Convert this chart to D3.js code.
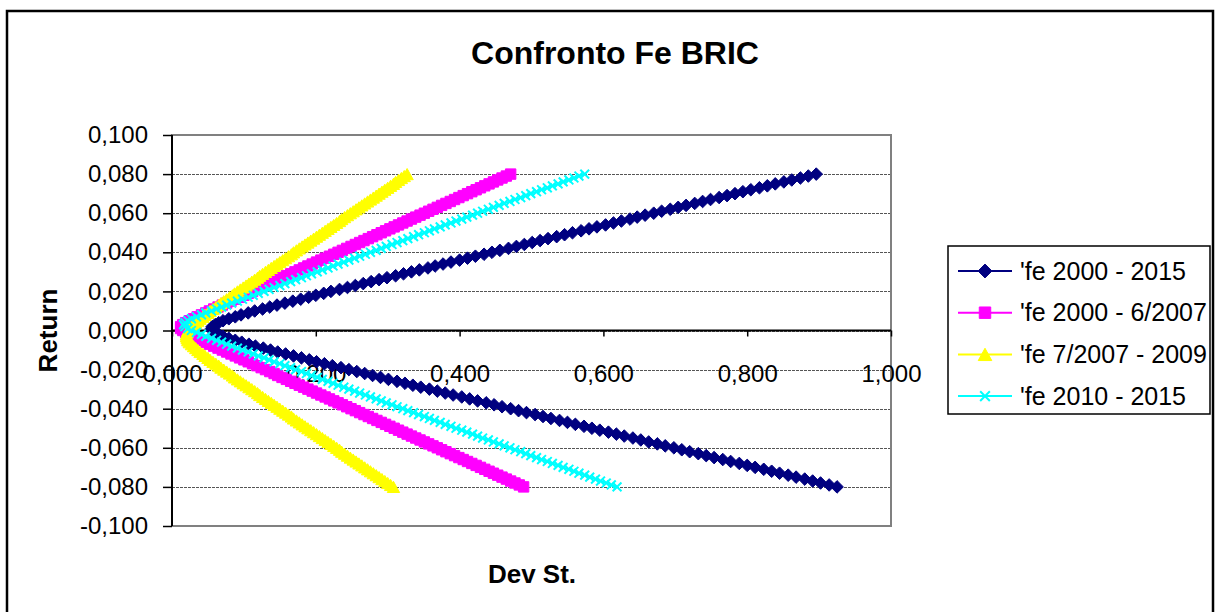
<!DOCTYPE html>
<html>
<head>
<meta charset="utf-8">
<script src="https://cdn.jsdelivr.net/npm/d3@7"></script>
<style>
  body { margin: 0; background: #fff; }
  svg { display: block; }
</style>
</head>
<body>
<svg id="chart" width="1219" height="612"></svg>
<script>
// Target returns of the frontier portfolios (same grid for every period)
const returns = [
  -0.080,-0.079,-0.078,-0.077,-0.076,-0.075,-0.074,-0.073,-0.072,-0.071,
  -0.070,-0.069,-0.068,-0.067,-0.066,-0.065,-0.064,-0.063,-0.062,-0.061,
  -0.060,-0.059,-0.058,-0.057,-0.056,-0.055,-0.054,-0.053,-0.052,-0.051,
  -0.050,-0.049,-0.048,-0.047,-0.046,-0.045,-0.044,-0.043,-0.042,-0.041,
  -0.040,-0.039,-0.038,-0.037,-0.036,-0.035,-0.034,-0.033,-0.032,-0.031,
  -0.030,-0.029,-0.028,-0.027,-0.026,-0.025,-0.024,-0.023,-0.022,-0.021,
  -0.020,-0.019,-0.018,-0.017,-0.016,-0.015,-0.014,-0.013,-0.012,-0.011,
  -0.010,-0.009,-0.008,-0.007,-0.006,-0.005,-0.004,-0.003,-0.002,-0.001,
   0.000, 0.001, 0.002, 0.003, 0.004, 0.005, 0.006, 0.007, 0.008, 0.009,
   0.010, 0.011, 0.012, 0.013, 0.014, 0.015, 0.016, 0.017, 0.018, 0.019,
   0.020, 0.021, 0.022, 0.023, 0.024, 0.025, 0.026, 0.027, 0.028, 0.029,
   0.030, 0.031, 0.032, 0.033, 0.034, 0.035, 0.036, 0.037, 0.038, 0.039,
   0.040, 0.041, 0.042, 0.043, 0.044, 0.045, 0.046, 0.047, 0.048, 0.049,
   0.050, 0.051, 0.052, 0.053, 0.054, 0.055, 0.056, 0.057, 0.058, 0.059,
   0.060, 0.061, 0.062, 0.063, 0.064, 0.065, 0.066, 0.067, 0.068, 0.069,
   0.070, 0.071, 0.072, 0.073, 0.074, 0.075, 0.076, 0.077, 0.078, 0.079,
   0.080
];

// Standard deviation of each frontier portfolio, one list per period
const devFe2000_2015 = [
  0.925,0.914,0.902,0.891,0.880,0.868,0.857,0.845,0.834,0.823,
  0.811,0.800,0.789,0.777,0.766,0.754,0.743,0.732,0.720,0.709,
  0.698,0.686,0.675,0.663,0.652,0.641,0.629,0.618,0.607,0.595,
  0.584,0.573,0.561,0.550,0.539,0.527,0.516,0.505,0.493,0.482,
  0.471,0.459,0.448,0.437,0.425,0.414,0.403,0.391,0.380,0.369,
  0.358,0.346,0.335,0.324,0.313,0.301,0.290,0.279,0.268,0.257,
  0.246,0.235,0.223,0.212,0.201,0.191,0.180,0.169,0.158,0.147,
  0.137,0.127,0.116,0.107,0.097,0.088,0.079,0.071,0.065,0.060,
  0.056,0.055,
  0.056,0.060,0.065,0.071,0.079,0.088,0.096,0.106,0.115,0.126,
  0.136,0.146,0.157,0.168,0.179,0.190,0.200,0.211,0.221,0.233,
  0.244,0.255,0.266,0.277,0.288,0.299,0.311,0.322,0.333,0.344,
  0.356,0.366,0.377,0.388,0.400,0.411,0.422,0.434,0.445,0.456,
  0.468,0.479,0.490,0.501,0.512,0.523,0.535,0.546,0.557,0.569,
  0.580,0.591,0.603,0.614,0.625,0.637,0.647,0.658,0.670,0.681,
  0.693,0.704,0.715,0.727,0.738,0.749,0.761,0.772,0.783,0.794,
  0.805,0.817,0.828,0.839,0.851,0.862,0.874,0.885,0.896
];
const devFe2000_2007 = [
  0.489,0.483,0.477,0.471,0.465,0.459,0.453,0.447,0.441,0.435,
  0.429,0.423,0.417,0.411,0.405,0.399,0.393,0.387,0.381,0.375,
  0.369,0.363,0.357,0.351,0.345,0.339,0.333,0.327,0.321,0.315,
  0.309,0.303,0.297,0.291,0.285,0.279,0.273,0.267,0.261,0.255,
  0.249,0.243,0.237,0.231,0.225,0.219,0.213,0.207,0.201,0.195,
  0.189,0.183,0.177,0.171,0.165,0.159,0.153,0.147,0.142,0.136,
  0.130,0.124,0.118,0.112,0.106,0.100,0.094,0.088,0.082,0.076,
  0.070,0.064,0.058,0.052,0.047,0.041,0.035,0.030,0.024,0.019,
  0.015,0.012,
  0.012,0.015,0.019,0.024,0.030,0.035,0.041,0.047,0.052,0.058,
  0.064,0.070,0.076,0.082,0.088,0.094,0.100,0.106,0.112,0.118,
  0.124,0.130,0.136,0.142,0.147,0.153,0.159,0.165,0.171,0.177,
  0.183,0.189,0.195,0.201,0.207,0.213,0.219,0.225,0.231,0.237,
  0.243,0.249,0.255,0.261,0.267,0.273,0.279,0.285,0.291,0.297,
  0.303,0.309,0.315,0.321,0.327,0.333,0.339,0.345,0.351,0.357,
  0.363,0.369,0.375,0.381,0.387,0.393,0.399,0.405,0.411,0.417,
  0.423,0.429,0.435,0.441,0.447,0.453,0.459,0.465,0.471
];
const devFe2007_2009 = [
  0.308,0.304,0.300,0.296,0.292,0.288,0.284,0.280,0.276,0.272,
  0.268,0.264,0.260,0.256,0.252,0.248,0.244,0.240,0.236,0.233,
  0.229,0.225,0.221,0.217,0.213,0.209,0.205,0.201,0.197,0.193,
  0.189,0.185,0.181,0.177,0.173,0.169,0.166,0.162,0.158,0.154,
  0.150,0.146,0.142,0.138,0.134,0.130,0.126,0.122,0.119,0.115,
  0.111,0.107,0.103,0.099,0.095,0.091,0.087,0.084,0.080,0.076,
  0.072,0.068,0.065,0.061,0.057,0.053,0.050,0.046,0.043,0.039,
  0.036,0.033,0.030,0.027,0.024,0.022,0.021,0.020,
  0.020,0.021,0.022,0.024,0.027,0.030,0.033,0.036,0.039,0.043,
  0.046,0.050,0.053,0.057,0.061,0.065,0.068,0.072,0.076,0.080,
  0.084,0.087,0.091,0.095,0.099,0.103,0.107,0.111,0.115,0.119,
  0.122,0.126,0.130,0.134,0.138,0.142,0.146,0.150,0.154,0.158,
  0.162,0.166,0.169,0.173,0.177,0.181,0.185,0.189,0.193,0.197,
  0.201,0.205,0.209,0.213,0.217,0.221,0.225,0.229,0.233,0.236,
  0.240,0.244,0.248,0.252,0.256,0.260,0.264,0.268,0.272,0.276,
  0.280,0.284,0.288,0.292,0.296,0.300,0.304,0.308,0.311,0.315,
  0.319,0.323,0.327
];
const devFe2010_2015 = [
  0.619,0.611,0.604,0.596,0.589,0.581,0.574,0.566,0.559,0.552,
  0.544,0.537,0.529,0.522,0.514,0.507,0.499,0.492,0.485,0.477,
  0.470,0.462,0.455,0.447,0.440,0.432,0.425,0.418,0.410,0.403,
  0.395,0.388,0.380,0.373,0.365,0.358,0.351,0.343,0.336,0.328,
  0.321,0.313,0.306,0.298,0.291,0.284,0.276,0.269,0.261,0.254,
  0.246,0.239,0.231,0.224,0.217,0.209,0.202,0.194,0.187,0.180,
  0.172,0.165,0.157,0.150,0.142,0.135,0.128,0.120,0.113,0.106,
  0.098,0.091,0.083,0.076,0.069,0.062,0.055,0.047,0.041,0.034,
  0.027,0.022,0.018,0.016,
  0.018,0.022,0.027,0.034,0.041,0.047,0.055,0.062,0.069,0.076,
  0.083,0.091,0.098,0.106,0.113,0.120,0.128,0.135,0.142,0.150,
  0.157,0.165,0.172,0.180,0.187,0.194,0.202,0.209,0.217,0.224,
  0.231,0.239,0.246,0.254,0.261,0.269,0.276,0.284,0.291,0.298,
  0.306,0.313,0.321,0.328,0.336,0.343,0.351,0.358,0.365,0.373,
  0.380,0.388,0.395,0.403,0.410,0.418,0.425,0.432,0.440,0.447,
  0.455,0.462,0.470,0.477,0.485,0.492,0.499,0.507,0.514,0.522,
  0.529,0.537,0.544,0.552,0.559,0.566,0.574
];

const seriesNames  = ["'fe 2000 - 2015", "'fe 2000 - 6/2007", "'fe 7/2007 - 2009", "'fe 2010 - 2015"];
const seriesColors = ["#000080", "#FF00FF", "#FFFF00", "#00FFFF"];
const seriesMarkers = ["diamond", "square", "triangle", "cross"];
const seriesDevs = [devFe2000_2015, devFe2000_2007, devFe2007_2009, devFe2010_2015];

const xTicks = [0, 0.2, 0.4, 0.6, 0.8, 1.0];
const yTicks = [-0.1, -0.08, -0.06, -0.04, -0.02, 0, 0.02, 0.04, 0.06, 0.08, 0.1];

const FONT = "'Liberation Sans', Arial, Helvetica, sans-serif";
const svg = d3.select("#chart");

const plot = { left: 172, right: 891, top: 135, bottom: 526 };
const x = d3.scaleLinear().domain([0, 1]).range([plot.left, plot.right]);
const y = d3.scaleLinear().domain([-0.1, 0.1]).range([plot.bottom, plot.top]);

const itLocale = d3.formatLocale({ decimal: ",", thousands: ".", grouping: [3], currency: ["", " €"], minus: "-" });
const fmt = itLocale.format(".3f");

// Chart frame
svg.append("rect")
  .attr("x", 7).attr("y", 11).attr("width", 1206).attr("height", 640)
  .attr("fill", "#fff").attr("stroke", "#000").attr("stroke-width", 2.5);

// Title
svg.append("text")
  .attr("x", 615).attr("y", 64)
  .attr("text-anchor", "middle")
  .attr("font-family", FONT).attr("font-size", 32).attr("font-weight", "bold")
  .text("Confronto Fe BRIC");

// Plot area with horizontal gridlines
svg.append("g").selectAll("line")
  .data(yTicks.filter(t => Math.abs(t) < 0.099))
  .join("line")
  .attr("x1", plot.left).attr("x2", plot.right)
  .attr("y1", d => Math.round(y(d)) + 0.5).attr("y2", d => Math.round(y(d)) + 0.5)
  .attr("stroke", "#555").attr("stroke-width", 1).attr("stroke-dasharray", "3,1");

svg.append("rect")
  .attr("x", plot.left).attr("y", plot.top)
  .attr("width", plot.right - plot.left).attr("height", plot.bottom - plot.top)
  .attr("fill", "none").attr("stroke", "#808080").attr("stroke-width", 2);

// Y axis
const gy = svg.append("g")
  .attr("transform", `translate(${plot.left},0)`)
  .call(d3.axisLeft(y).tickValues(yTicks).tickFormat(fmt).tickSize(9).tickPadding(15));
gy.select(".domain").remove();
gy.attr("font-family", FONT).attr("font-size", 24);
gy.selectAll(".tick line").attr("stroke", "#000").attr("stroke-width", 1.5);
gy.selectAll(".tick text").attr("fill", "#000");
svg.append("line")
  .attr("x1", plot.left).attr("x2", plot.left)
  .attr("y1", plot.top).attr("y2", plot.bottom)
  .attr("stroke", "#000").attr("stroke-width", 2);

// X axis, crossing at zero return
const gx = svg.append("g")
  .attr("transform", `translate(0,${y(0)})`)
  .call(d3.axisBottom(x).tickValues(xTicks).tickFormat(fmt).tickSize(6).tickPadding(28));
gx.select(".domain").remove();
gx.attr("font-family", FONT).attr("font-size", 24);
gx.selectAll(".tick line").attr("stroke", "#000").attr("stroke-width", 1.5);
gx.selectAll(".tick text").attr("fill", "#000");
svg.append("line")
  .attr("x1", plot.left).attr("x2", plot.right)
  .attr("y1", y(0)).attr("y2", y(0))
  .attr("stroke", "#000").attr("stroke-width", 2);

// Axis titles
svg.append("text")
  .attr("transform", `translate(48,${y(0)}) rotate(-90)`)
  .attr("text-anchor", "middle").attr("dy", "0.35em")
  .attr("font-family", FONT).attr("font-size", 26).attr("font-weight", "bold")
  .text("Return");
svg.append("text")
  .attr("x", 532).attr("y", 583)
  .attr("text-anchor", "middle")
  .attr("font-family", FONT).attr("font-size", 26).attr("font-weight", "bold")
  .text("Dev St.");

// Marker shapes
function markerPath(kind, s) {
  switch (kind) {
    case "diamond":  return `M0,${-s}L${s},0L0,${s}L${-s},0Z`;
    case "square":   return `M${-s},${-s}H${s}V${s}H${-s}Z`;
    case "triangle": return `M0,${-s}L${s * 1.1},${s}L${-s * 1.1},${s}Z`;
    case "cross":    return `M${-s},${-s}L${s},${s}M${-s},${s}L${s},${-s}`;
  }
}
const markerSize = { diamond: 6.3, square: 5.2, triangle: 5.6, cross: 4.4 };

function drawMarkers(g, kind, color, pts, scale = 1) {
  const p = g.selectAll("path.m").data(pts).join("path")
    .attr("class", "m")
    .attr("transform", d => `translate(${d[0]},${d[1]})`)
    .attr("d", markerPath(kind, markerSize[kind] * scale));
  if (kind === "cross") {
    p.attr("fill", "none").attr("stroke", color).attr("stroke-width", 2);
  } else {
    p.attr("fill", color).attr("stroke", color).attr("stroke-width", 1);
  }
}

// Frontier series
const line = d3.line().x(d => x(d.dev)).y(d => y(d.ret));
seriesDevs.forEach((devs, i) => {
  const pts = returns.map((r, k) => ({ ret: r, dev: devs[k] }));
  const g = svg.append("g");
  g.append("path")
    .datum(pts)
    .attr("d", line)
    .attr("fill", "none")
    .attr("stroke", seriesColors[i])
    .attr("stroke-width", 2);
  drawMarkers(g, seriesMarkers[i], seriesColors[i], pts.map(d => [x(d.dev), y(d.ret)]));
});

// Legend
const legend = svg.append("g");
legend.append("rect")
  .attr("x", 948).attr("y", 246).attr("width", 262).attr("height", 168)
  .attr("fill", "#fff").attr("stroke", "#000").attr("stroke-width", 1.5);
seriesNames.forEach((name, i) => {
  const cy = 271 + i * 41.7;
  legend.append("line")
    .attr("x1", 958).attr("x2", 1012).attr("y1", cy).attr("y2", cy)
    .attr("stroke", seriesColors[i]).attr("stroke-width", 2);
  drawMarkers(legend.append("g"), seriesMarkers[i], seriesColors[i], [[985, cy]], 1.1);
  legend.append("text")
    .attr("x", 1020).attr("y", cy).attr("dy", "0.35em")
    .attr("font-family", FONT).attr("font-size", 25)
    .text(name);
});
</script>
</body>
</html>
